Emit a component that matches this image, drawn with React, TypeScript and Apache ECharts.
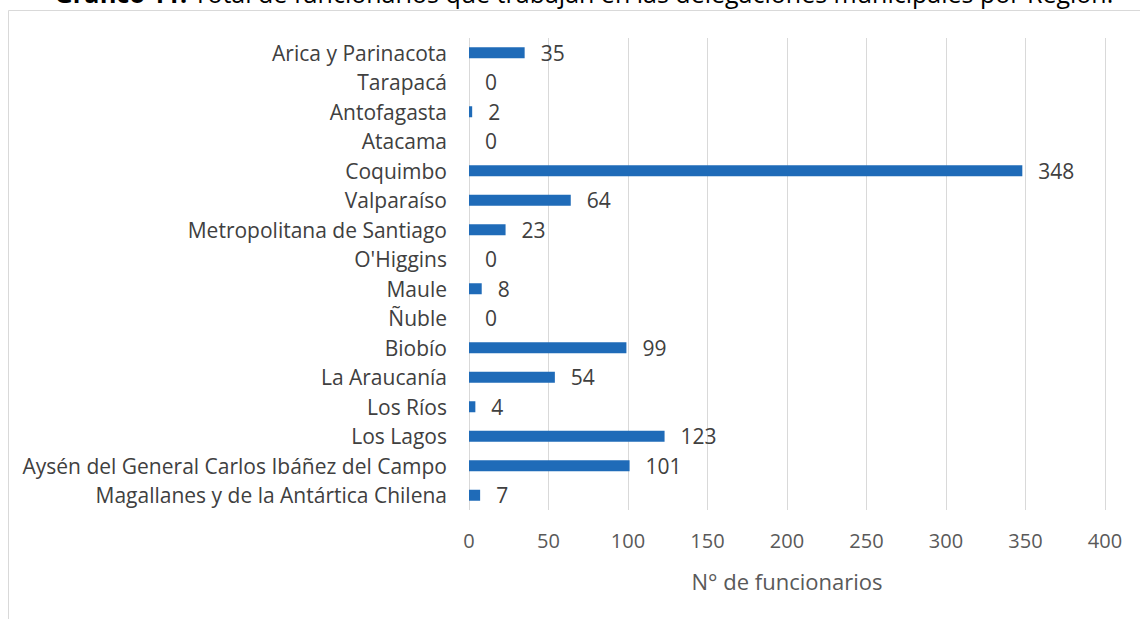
import React, { useEffect, useRef } from "react";
import * as echarts from "echarts";

const categories = [
  "Arica y Parinacota",
  "Tarapacá",
  "Antofagasta",
  "Atacama",
  "Coquimbo",
  "Valparaíso",
  "Metropolitana de Santiago",
  "O'Higgins",
  "Maule",
  "Ñuble",
  "Biobío",
  "La Araucanía",
  "Los Ríos",
  "Los Lagos",
  "Aysén del General Carlos Ibáñez del Campo",
  "Magallanes y de la Antártica Chilena",
];
const values = [35, 0, 2, 0, 348, 64, 23, 0, 8, 0, 99, 54, 4, 123, 101, 7];
const xTicks = [0, 50, 100, 150, 200, 250, 300, 350, 400];
const titleBold = "Gráfico 11:";
const titleRest = " Total de funcionarios que trabajan en las delegaciones municipales por Región.";
const axisTitle = "N° de funcionarios";

export default function App() {
  const ref = useRef<HTMLDivElement>(null);
  useEffect(() => {
    if (!ref.current) return;
    const chart = echarts.init(ref.current, null, { renderer: "svg" });
    const font = "'Open Sans', 'Liberation Sans', sans-serif";
    chart.setOption({
      animation: false,
      textStyle: { fontFamily: font },
      graphic: [
        {
          type: "rect",
          shape: { x: 8.5, y: 10.5, width: 1200, height: 700 },
          style: { fill: "none", stroke: "#d9d9d9", lineWidth: 1 },
          silent: true,
        },
        {
          type: "text",
          x: 584,
          y: -22,
          style: {
            text: "{b|" + titleBold + "}{r|" + titleRest + "}",
            align: "center",
            verticalAlign: "top",
            rich: {
              b: { fontSize: 25, lineHeight: 30, fontWeight: "bold", fill: "#000", fontFamily: font },
              r: { fontSize: 25, lineHeight: 30, fill: "#000", fontFamily: font },
            },
          },
        },
      ],
      grid: { left: 469, right: 35, top: 38, bottom: 109, containLabel: false },
      xAxis: {
        type: "value",
        min: xTicks[0],
        max: xTicks[xTicks.length - 1],
        interval: 50,
        axisLine: { show: false },
        axisTick: { show: false },
        axisLabel: { fontSize: 20, color: "#595959", margin: 20, fontFamily: font },
        splitLine: { lineStyle: { color: "#d9d9d9", width: 1 } },
        name: axisTitle,
        nameLocation: "middle",
        nameGap: 60,
        nameTextStyle: { fontSize: 22, color: "#595959", fontFamily: font },
      },
      yAxis: {
        type: "category",
        data: categories,
        inverse: true,
        axisLine: { show: false },
        axisTick: { show: false },
        axisLabel: { fontSize: 21, color: "#404040", margin: 22, fontFamily: font },
      },
      series: [
        {
          type: "bar",
          data: values,
          barWidth: 11,
          itemStyle: { color: "#1f6bb8" },
          label: {
            show: true,
            position: "right",
            distance: 16,
            fontSize: 21,
            color: "#404040",
            fontFamily: font,
          },
        },
      ],
    });
    return () => chart.dispose();
  }, []);
  return (
    <div
      ref={ref}
      style={{ position: "absolute", left: 0, top: 0, width: 1140, height: 619, background: "#fff" }}
    />
  );
}
